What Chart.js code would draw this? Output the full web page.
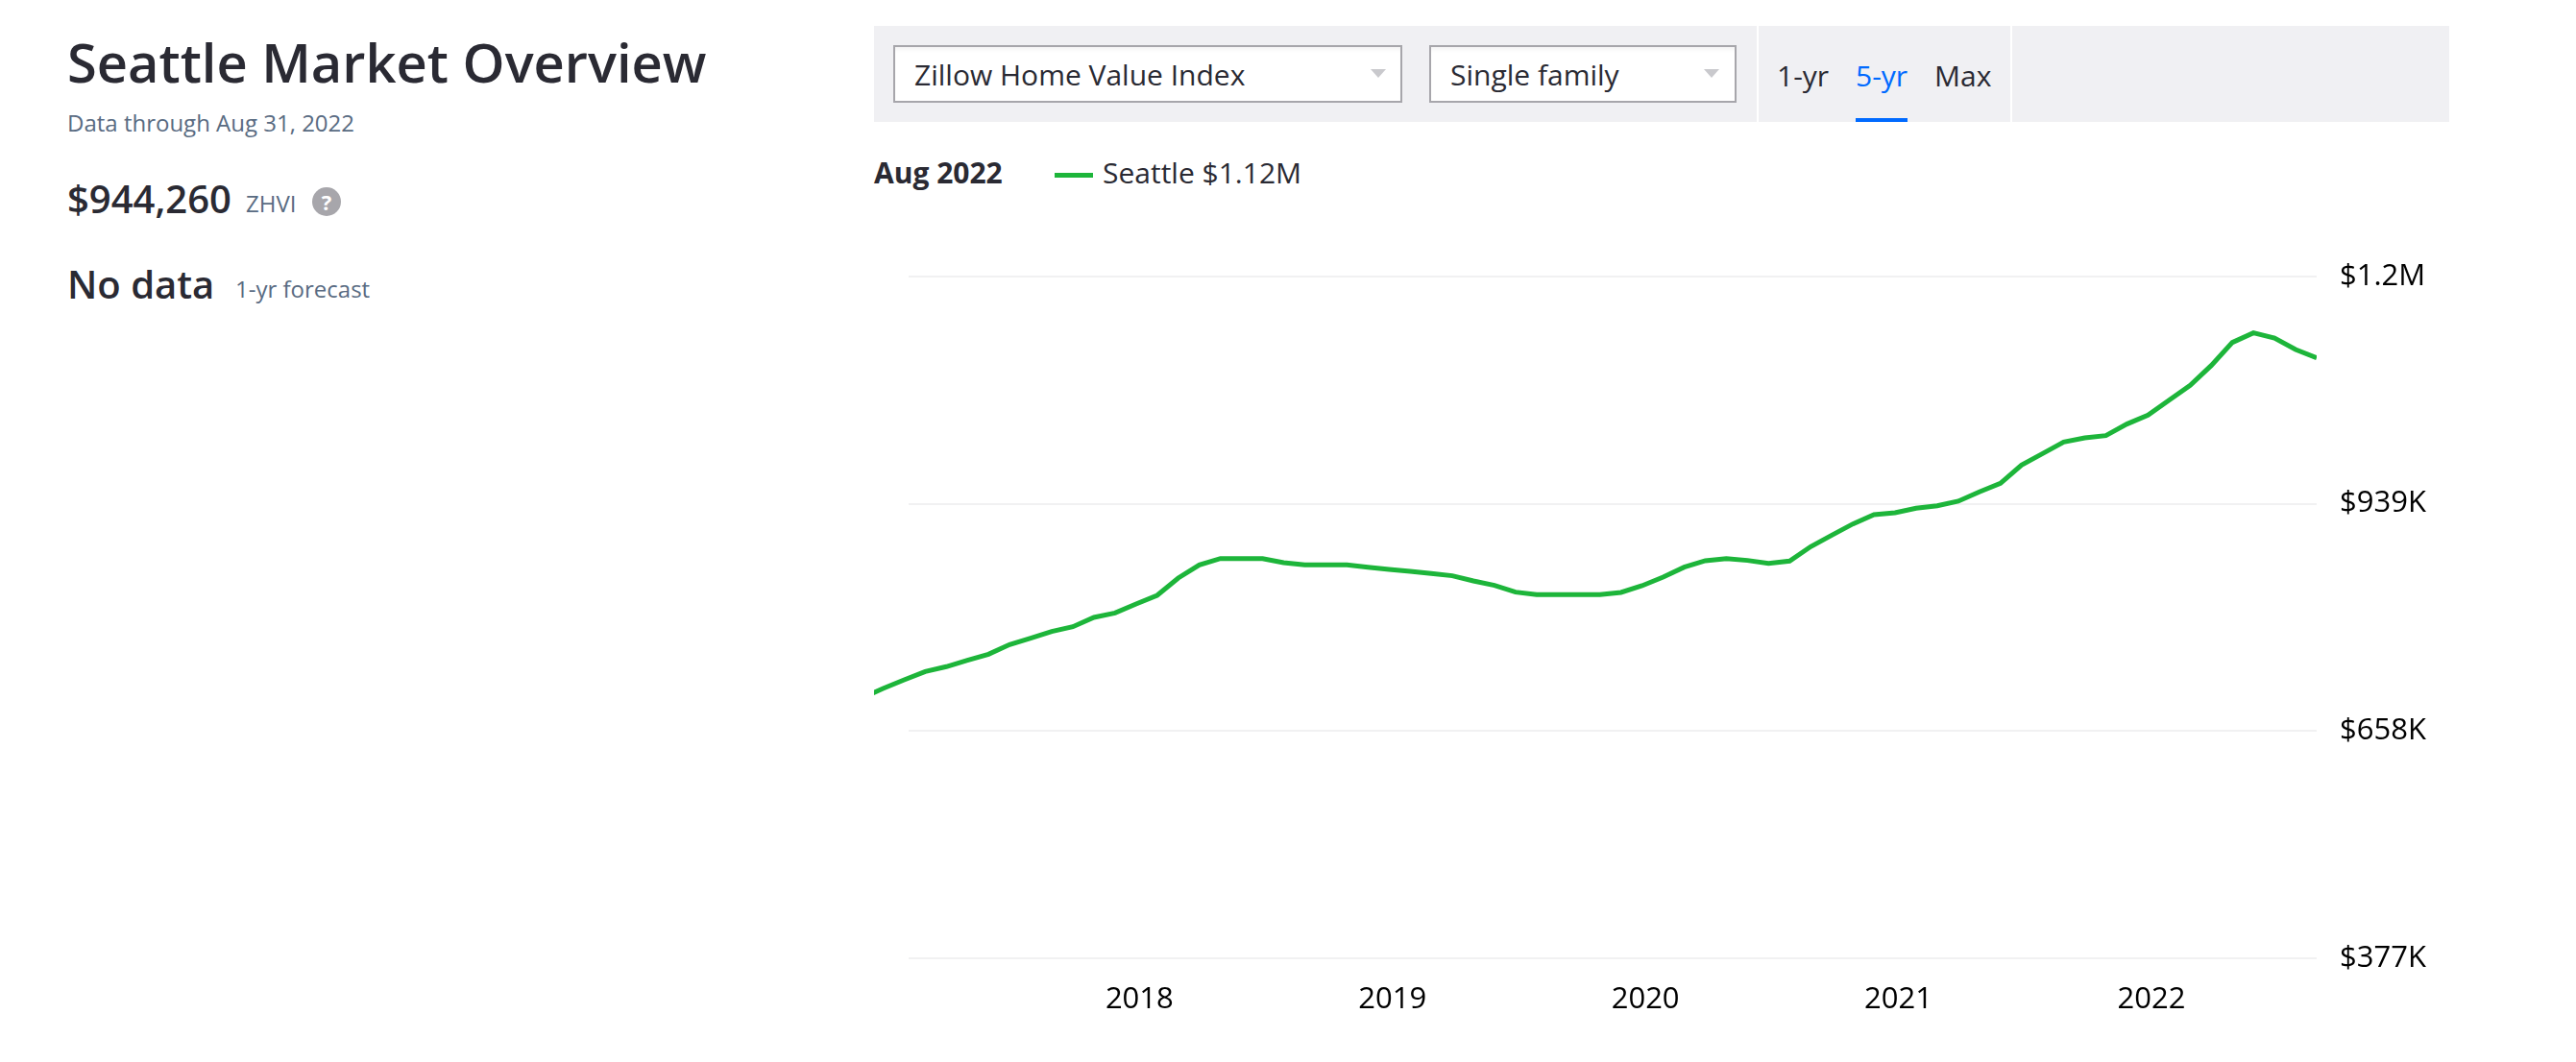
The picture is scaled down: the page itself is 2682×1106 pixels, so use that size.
<!DOCTYPE html>
<html>
<head>
<meta charset="utf-8">
<script src="https://cdn.jsdelivr.net/npm/chart.js@4"></script>
<style>
  html, body { margin: 0; padding: 0; background: #fff; }
  body { width: 2682px; height: 1106px; position: relative; overflow: hidden; font-family: "Open Sans", sans-serif; color: #2a2a33; }
  canvas { position: absolute; left: 0; top: 0; }
  .t { position: absolute; white-space: nowrap; line-height: 1; }
  .box { position: absolute; box-sizing: border-box; background: #fff; border: 2px solid #a7a6ab; box-shadow: inset 0 5px 5px -3px rgba(0,0,0,.06); }
  .arrow { position: absolute; width: 0; height: 0; border-left: 8px solid transparent; border-right: 8px solid transparent; border-top: 9px solid #c9c9cd; }
  .block { position: absolute; }
</style>
</head>
<body>
<div class="t" style="left:70px;top:36px;font-size:56px;font-weight:600">Seattle Market Overview</div>
<div class="t" style="left:70px;top:116px;font-size:24px;color:#596b82">Data through Aug 31, 2022</div>
<div class="t" style="left:70px;top:187px;font-size:40px;font-weight:600">$944,260</div>
<div class="t" style="left:256px;top:200px;font-size:24px;color:#596b82">ZHVI</div>
<div class="block" style="left:325px;top:195px;width:30px;height:30px;border-radius:50%;background:#a7a6ab"></div>
<div class="t" style="left:325px;top:199px;width:30px;text-align:center;font-size:22px;font-weight:700;color:#fff">?</div>
<div class="t" style="left:70px;top:276px;font-size:40px;font-weight:600">No data</div>
<div class="t" style="left:245px;top:289px;font-size:24px;color:#596b82">1-yr forecast</div>

<div class="block" style="left:910px;top:27px;width:1640px;height:100px;background:#f0f0f3"></div>
<div class="box" style="left:930px;top:47px;width:530px;height:60px"></div>
<div class="t" style="left:952px;top:63px;font-size:30px">Zillow Home Value Index</div>
<div class="arrow" style="left:1427px;top:72px"></div>
<div class="box" style="left:1488px;top:47px;width:320px;height:60px"></div>
<div class="t" style="left:1510px;top:63px;font-size:30px">Single family</div>
<div class="arrow" style="left:1774px;top:72px"></div>
<div class="block" style="left:1829px;top:27px;width:2px;height:100px;background:#fff"></div>
<div class="block" style="left:2093px;top:27px;width:2px;height:100px;background:#fff"></div>
<div class="t" style="left:1850px;top:64px;font-size:30px">1-yr</div>
<div class="t" style="left:1932px;top:64px;font-size:30px;color:#006aff">5-yr</div>
<div class="block" style="left:1932px;top:123px;width:54px;height:4px;background:#006aff"></div>
<div class="t" style="left:2014px;top:64px;font-size:30px">Max</div>

<div class="t" style="left:910px;top:165px;font-size:30px;font-weight:700">Aug 2022</div>
<div class="block" style="left:1098px;top:180px;width:40px;height:5px;background:#1db53a"></div>
<div class="t" style="left:1148px;top:165px;font-size:30px">Seattle $1.12M</div>

<canvas id="myChart" width="2682" height="1106"></canvas>
<script>
// month ends, starting Nov 2016 (first point falls left of the plot and is clipped)
const startYear = 2017
const monthIndex = [-1,0,1,2,3,4,5,6,7,8,9,10,11,12,13,14,15,16,17,18,19,20,21,22,23,24,25,26,27,28,29,30,31,32,33,34,35,36,37,38,39,40,41,42,43,44,45,46,47,48,49,50,51,52,53,54,55,56,57,58,59,60,61,62,63,64,65,66,67,68]
// Seattle ZHVI, single family, thousands of dollars
const seattle = [699,710.7,721.3,731.6,737.6,745.5,753,764.9,772.8,781.1,787,798.5,804,815.1,825.8,847.2,863.4,871.3,871.3,871.3,866.2,863.4,863.4,863.4,860.6,857.9,855.5,852.7,850,843.6,838.1,829.8,826.6,826.6,826.6,826.6,829.4,837.7,848.4,860.6,868.6,871.3,869,865.4,868.2,886,900.2,914.1,925.6,927.9,933.5,936.6,942.2,953.7,964.3,986.9,1001.1,1015.4,1020.5,1023.3,1037.6,1048.6,1067.2,1085.4,1110,1138.5,1150.4,1144,1129.8,1119.5]
// year labels sit a few days into January
const yearTicks = [12.16,24.16,36.16,48.16,60.16]
const valueTicks = [377,658,939,1220]
const valueLabels = ['$377K','$658K','$939K','$1.2M']

const points = monthIndex.map((m, i) => ({ x: m, y: seattle[i] }))

// grid lines start a little right of the line, so they are drawn here
const gridPlugin = {
  id: 'gridLines',
  beforeDatasetsDraw(chart) {
    const c = chart.ctx
    const y = chart.scales.y
    c.save()
    c.strokeStyle = '#f1f1f2'
    c.lineWidth = 2
    valueTicks.forEach(v => {
      const py = Math.round(y.getPixelForValue(v))
      c.beginPath()
      c.moveTo(946, py)
      c.lineTo(chart.chartArea.right, py)
      c.stroke()
    })
    c.restore()
  }
}

const ctx = document.getElementById('myChart')
const myChart = new Chart(ctx, {
  type: 'line',
  data: {
    datasets: [{
      label: 'Seattle',
      data: points,
      borderColor: '#1db53a',
      borderWidth: 5,
      pointRadius: 0,
      tension: 0,
      clip: 0
    }]
  },
  options: {
    responsive: false,
    animation: false,
    layout: { padding: { left: 910, top: 288, right: 0, bottom: 0 } },
    plugins: { legend: { display: false }, tooltip: { enabled: false } },
    scales: {
      x: {
        type: 'linear',
        min: -0.43,
        max: 68,
        border: { display: false },
        grid: { display: false },
        afterBuildTicks: s => { s.ticks = yearTicks.map(v => ({ value: v })) },
        afterFit: s => { s.height = 108 },
        ticks: {
          autoSkip: false,
          maxRotation: 0,
          padding: 17,
          color: '#000',
          font: { family: 'Open Sans', size: 31 },
          callback: v => String(startYear + Math.round(v / 12))
        }
      },
      y: {
        position: 'right',
        min: 377,
        max: 1220,
        border: { display: false },
        grid: { display: false },
        afterBuildTicks: s => { s.ticks = valueTicks.map(v => ({ value: v })) },
        afterFit: s => { s.width = 270 },
        ticks: {
          autoSkip: false,
          padding: 16,
          color: '#000',
          font: { family: 'Open Sans', size: 31 },
          callback: v => valueLabels[valueTicks.indexOf(v)]
        }
      }
    }
  },
  plugins: [gridPlugin]
})
</script>
</body>
</html>
